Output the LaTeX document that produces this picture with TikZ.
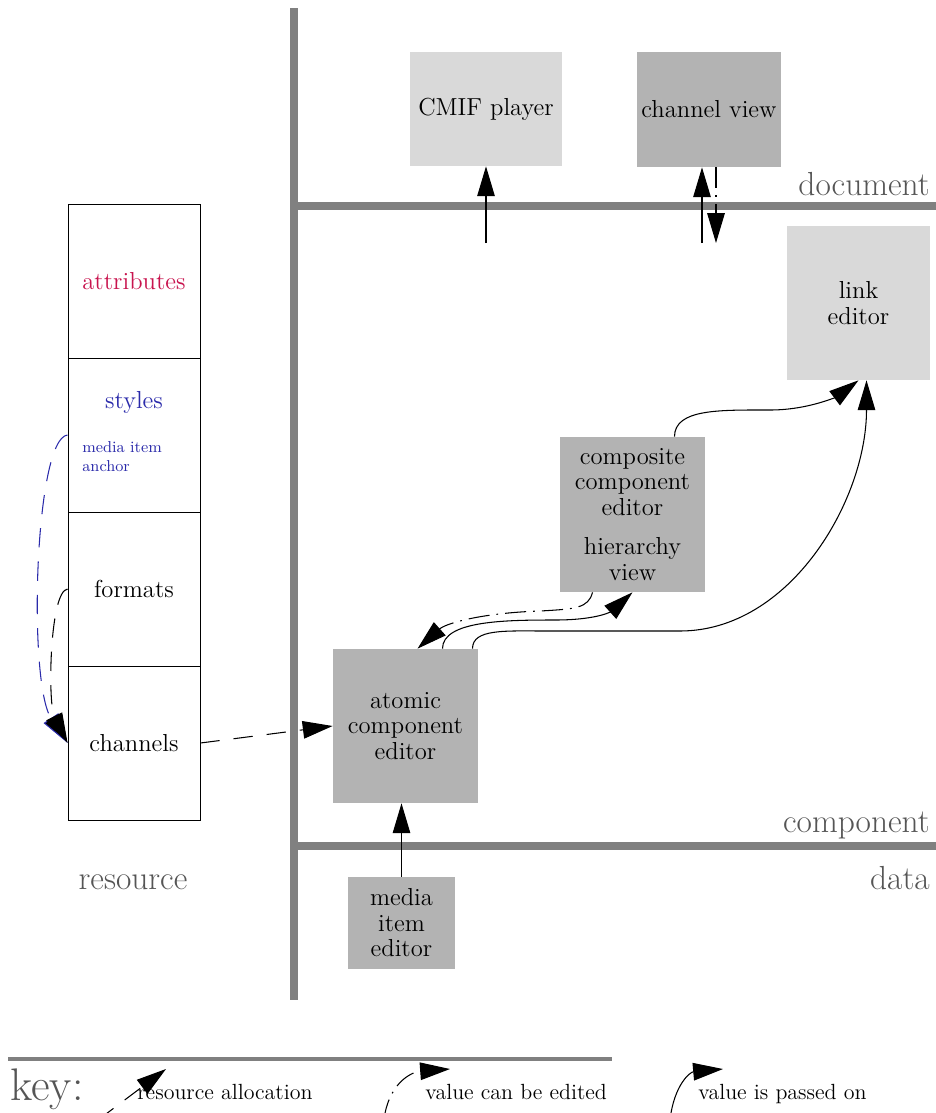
\documentclass[tikz,border=0pt]{standalone}
\usetikzlibrary{arrows.meta,calc}
\definecolor{lightgr}{HTML}{D9D9D9}
\definecolor{darkgr}{HTML}{B3B3B3}
\definecolor{bargr}{HTML}{808080}
\definecolor{labgr}{HTML}{555555}
\definecolor{attrred}{HTML}{C8144E}
\definecolor{styleblue}{HTML}{2A2AAA}
\begin{document}
\begin{tikzpicture}[x=0.02cm,y=-0.02cm,font=\fontsize{14}{14.5}\selectfont,
  >={Triangle[length=17pt,width=10pt]},
  box/.style={align=center,inner sep=2pt},
  lightbox/.style={box,fill=lightgr},
  darkbox/.style={box,fill=darkgr},
  cell/.style={draw=black,line width=.5pt,minimum width=2.64cm,
    minimum height=3.08cm,align=center},
  bar/.style={draw=bargr,line width=4.5pt},
  layer/.style={text=labgr,inner sep=0pt,font=\fontsize{19}{20}\selectfont},
  keytext/.style={anchor=base west,inner sep=0pt,font=\fontsize{12.5}{13}\selectfont},
  passon/.style={->,line width=.6pt},
  resalloc/.style={->,line width=.6pt,dash pattern=on 11pt off 8pt},
  editable/.style={->,line width=.6pt,dash pattern=on 12pt off 4pt on 1pt off 4pt}]
\clip (0,0) rectangle (936,1113);
% layers
\coordinate (vtop) at (294,8);
\coordinate (vbot) at (294,1000);
\coordinate (docend) at (936,206);
\coordinate (compend) at (936,846);
\draw[bar] (vtop) -- (vbot);
\draw[bar] (vtop |- docend) -- (docend);
\draw[bar] (vtop |- compend) -- (compend);
\node[layer,anchor=base east] (doclbl) at (930,195) {document};
\node[layer,anchor=base east] (complbl) at (930,832) {component};
\node[layer,anchor=base east] (datalbl) at (930,889) {data};
\node[layer,anchor=base] (reslbl) at (133,889) {resource};
% editors
\node[lightbox,minimum width=3.04cm,minimum height=2.28cm] (player) at (486,109) {CMIF player};
\node[darkbox,minimum width=2.88cm,minimum height=2.3cm] (chview) at (709,109.5) {channel view};
\node[lightbox,minimum width=2.86cm,minimum height=3.08cm] (linked) at (858.5,303) {link\\editor};
\node[darkbox,minimum width=2.9cm,minimum height=3.1cm] (composite) at (632.5,514.5)
  {composite\\component\\editor\\[8pt]hierarchy\\view};
\node[darkbox,minimum width=2.9cm,minimum height=3.08cm] (atomic) at (405.5,726)
  {atomic\\component\\editor};
\node[darkbox,minimum width=2.14cm,minimum height=1.84cm] (mediaed) at (401.5,923)
  {media\\item\\editor};
% resource column
\node[cell,text=attrred] (attrcell) at (134,281) {attributes};
\node[cell] (stylecell) at (134,435) {};
\node[cell] (fmtcell) at (134,589) {formats};
\node[cell] (chancell) at (134,743) {channels};
\node[text=styleblue,inner sep=0pt] (stylelbl) at (134,402) {styles};
\node[text=styleblue,inner sep=0pt,anchor=north west,align=left,
  font=\fontsize{9}{10.8}\selectfont] (anchorlbl) at (82,441) {media item\\anchor};
% connectors
\coordinate (playin) at (486,243);
\coordinate (viewin) at (702,243);
\coordinate (viewout) at (716,243);
\draw[passon] (playin) -- (player);
\draw[passon] (viewin) -- (viewin |- chview.south);
\draw[editable] (viewout |- chview.south) -- (viewout);
\draw[passon] (mediaed) -- (mediaed |- atomic.south);
\draw[resalloc] (chancell.east) -- (atomic.west);
\draw[resalloc,draw=styleblue,-{Triangle[length=17pt,width=10pt,fill=black]}]
  (stylecell.west) .. controls +(-33,3) and +(-40,-60) .. (chancell.west);
\draw[resalloc] (fmtcell.west) .. controls +(-18,2) and +(-20,-40) .. (chancell.west);
\draw[editable] ($(composite.south)+(-40,0)$) .. controls +(-4,16) and +(35,-2) .. (540,611)
  .. controls +(-60,2) and +(28,-25) .. ($(atomic.north)+(12,0)$);
\draw[passon] ($(atomic.north)+(37,0)$) .. controls +(0,-28) and +(-50,0) .. (555,620)
  .. controls +(45,0) and +(-20,18) .. (composite.south);
\draw[passon] ($(atomic.north)+(67,0)$) .. controls +(0,-20) and +(-40,0) .. (545,631)
  -- (680,631) .. controls +(110,0) and +(0,120) .. ($(linked.south)+(8,0)$);
\draw[passon] ($(composite.north)+(42,0)$) .. controls +(0,-28) and +(-50,0) .. (770,410)
  .. controls +(40,0) and +(-20,15) .. (linked.south);
% key
\coordinate (keyl) at (8,1059);
\coordinate (keyr) at (612,1059);
\draw[bargr,line width=2.2pt] (keyl) -- (keyr);
\node[layer,anchor=base west,font=\fontsize{26}{28}\selectfont] (keylbl) at (10,1100) {key:};
\node[keytext] (ratxt) at (137,1099) {resource allocation};
\node[keytext] (edtxt) at (425,1099) {value can be edited};
\node[keytext] (patxt) at (698,1099) {value is passed on};
\coordinate (ra0) at (98,1120);
\coordinate (ra1) at (166,1069);
\coordinate (ed0) at (384,1120);
\coordinate (ed1) at (450,1069);
\coordinate (pa0) at (670,1120);
\coordinate (pa1) at (723,1069);
\draw[resalloc] (ra0) -- (ra1);
\draw[editable] (ed0) .. controls +(4,-35) and +(-40,3) .. (ed1);
\draw[passon] (pa0) .. controls +(4,-35) and +(-33,3) .. (pa1);
\end{tikzpicture}
\end{document}
